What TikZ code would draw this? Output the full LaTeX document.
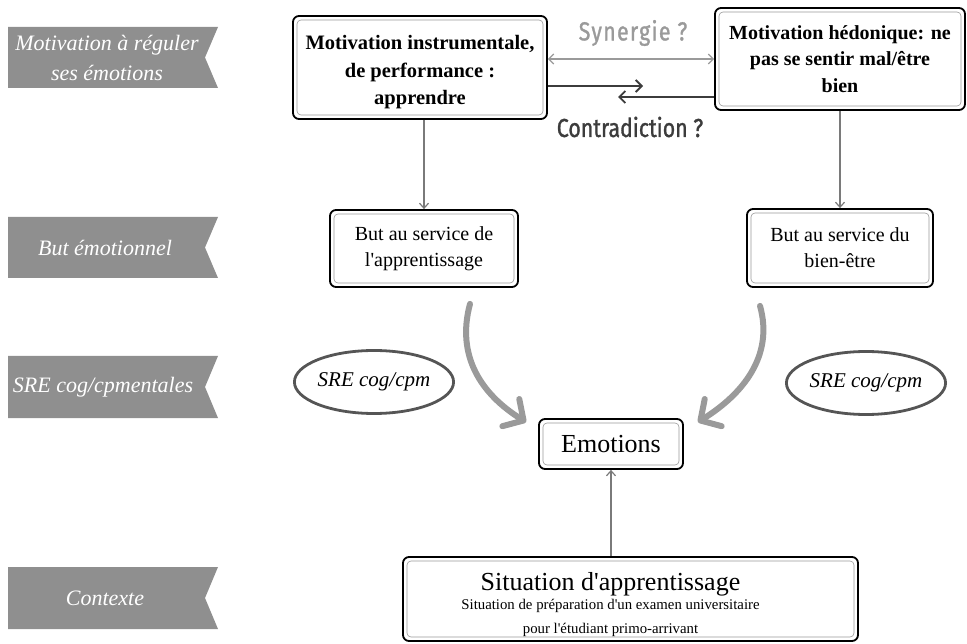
\documentclass[tikz,border=0pt]{standalone}
\usepackage{fontspec}
\setmainfont{Liberation Serif}
\newfontfamily\fontsyn[FakeStretch=0.82,FakeBold=1.2]{Fira Sans}
\usetikzlibrary{arrows.meta,shapes.geometric}

\definecolor{bandgris}{HTML}{8F8F8F}
\definecolor{flechegris}{HTML}{9A9A9A}
\definecolor{traitgris}{HTML}{7A7A7A}
\definecolor{foncegris}{HTML}{3C3C3C}
\definecolor{ellgris}{HTML}{555555}

\tikzset{
	cadre/.style={draw=black, line width=1.8pt, rounded corners=6pt, inner sep=0pt, align=center,
		path picture={\draw[gray!80, line width=0.6pt, rounded corners=4pt]
			([shift={(4pt,-4pt)}]path picture bounding box.north west) rectangle
			([shift={(-4pt,4pt)}]path picture bounding box.south east);}},
	bandeau/.style={fill=bandgris},
	etiquette/.style={text=white, font=\fontsize{22}{30}\selectfont\itshape, align=center},
	sre/.style={ellipse, draw=ellgris, line width=2.8pt, inner sep=0pt,
		minimum width=135pt, minimum height=63pt, font=\fontsize{21}{24}\selectfont\itshape},
	fleche/.style={draw=traitgris, line width=1.2pt, -{Straight Barb[length=5pt,width=9pt]}},
	contra/.style={draw=foncegris, line width=1.8pt, -{Straight Barb[length=6pt,width=12pt]}},
	courbe/.style={draw=flechegris, line width=6pt, line cap=round,
		-{Straight Barb[length=15pt,width=32pt,line join=round,line cap=round]}},
}

\begin{document}
\begin{tikzpicture}[x=1pt, y=-1pt]
	\useasboundingbox (0,0) rectangle (967,644);

	%bandeaux
	\fill[bandeau] (8,27) -- (218,27) -- (205,57.5) -- (218,88) -- (8,88) -- cycle;
	\node[etiquette] (b_motiv) at (107,57.5) {Motivation à réguler\\ses émotions};
	\fill[bandeau] (8,217) -- (218,217) -- (205,247.5) -- (218,278) -- (8,278) -- cycle;
	\node[etiquette] (b_but) at (105,247.5) {But émotionnel};
	\fill[bandeau] (8,356) -- (218,356) -- (205,387) -- (218,418) -- (8,418) -- cycle;
	\node[etiquette] (b_sre) at (103,387) {SRE cog/cpmentales};
	\fill[bandeau] (8,567) -- (218,567) -- (205,598) -- (218,629) -- (8,629) -- cycle;
	\node[etiquette] (b_ctx) at (105,598) {Contexte};

	%motivations
	\node[cadre, minimum width=254pt, minimum height=103pt, font=\fontsize{20.5}{27.5}\selectfont\bfseries]
		(mot_instr) at (420,67.5) {\raisebox{-4.5pt}[\height][\depth]{\begin{tabular}{@{}c@{}}Motivation instrumentale,\\de performance :\\apprendre\end{tabular}}};
	\node[cadre, minimum width=250pt, minimum height=102pt, font=\fontsize{20}{26.5}\selectfont\bfseries]
		(mot_hedo) at (840,59) {Motivation hédonique: ne\\pas se sentir mal/être\\bien};

	%synergie / contradiction
	\node[font=\fontsyn\fontsize{26}{28}\selectfont\addfontfeature{LetterSpace=5}, text=flechegris] (synergie) at (633,33) {Synergie ?};
	\draw[{Straight Barb[length=5pt,width=10pt]}-{Straight Barb[length=5pt,width=10pt]}, draw=flechegris, line width=1.2pt]
		(mot_instr.east |- mot_hedo.west) -- (mot_hedo.west);
	\coordinate (contra_d) at (643,86);
	\coordinate (contra_g) at (618,97);
	\draw[contra] (mot_instr.east |- contra_d) -- (contra_d);
	\draw[contra] (mot_hedo.west |- contra_g) -- (contra_g);
	\node[font=\fontsyn\fontsize{26}{28}\selectfont, text=foncegris] (contradiction) at (630,127) {Contradiction ?};

	%buts
	\node[cadre, minimum width=188pt, minimum height=77pt, font=\fontsize{20}{26}\selectfont]
		(but_appr) at (424,248.5) {But au service de\\l\textquotesingle apprentissage};
	\node[cadre, minimum width=186pt, minimum height=78pt, font=\fontsize{20}{26}\selectfont]
		(but_bien) at (840,248) {But au service du\\bien-être};
	\draw[fleche] (but_appr.north |- mot_instr.south) -- (but_appr.north);
	\draw[fleche] (mot_hedo.south) -- (but_bien.north);

	%strategies
	\node[sre] (sre_g) at (374,382) {SRE cog/cpm};
	\node[sre] (sre_d) at (866,383) {SRE cog/cpm};

	%emotions
	\node[cadre, minimum width=144pt, minimum height=50pt, font=\fontsize{26}{28}\selectfont]
		(emotions) at (611,444) {Emotions};
	\draw[courbe] ([shift={(46,16)}]but_appr.south) .. controls +(-14,52) and +(-45,-28) .. ([shift={(-12,4)}]emotions.north west);
	\draw[courbe] ([shift={(-80,18)}]but_bien.south) .. controls +(14,50) and +(45,-28) .. ([shift={(14,4)}]emotions.north east);

	%contexte
	\node[cadre, minimum width=455pt, minimum height=84pt, font=\fontsize{14.8}{22}\selectfont]
		(situation) at (630.5,599) {\raisebox{-7pt}[\height][\depth]{\begin{tabular}{@{}c@{}}
			{\fontsize{26}{28}\selectfont Situation d\textquotesingle apprentissage}\\[-3pt]
			Situation de préparation d\textquotesingle un examen universitaire\\[2pt]
			pour l\textquotesingle étudiant primo-arrivant\end{tabular}}\hspace*{40pt}};
	\draw[fleche] (emotions.south |- situation.north) -- (emotions.south);
\end{tikzpicture}
\end{document}
